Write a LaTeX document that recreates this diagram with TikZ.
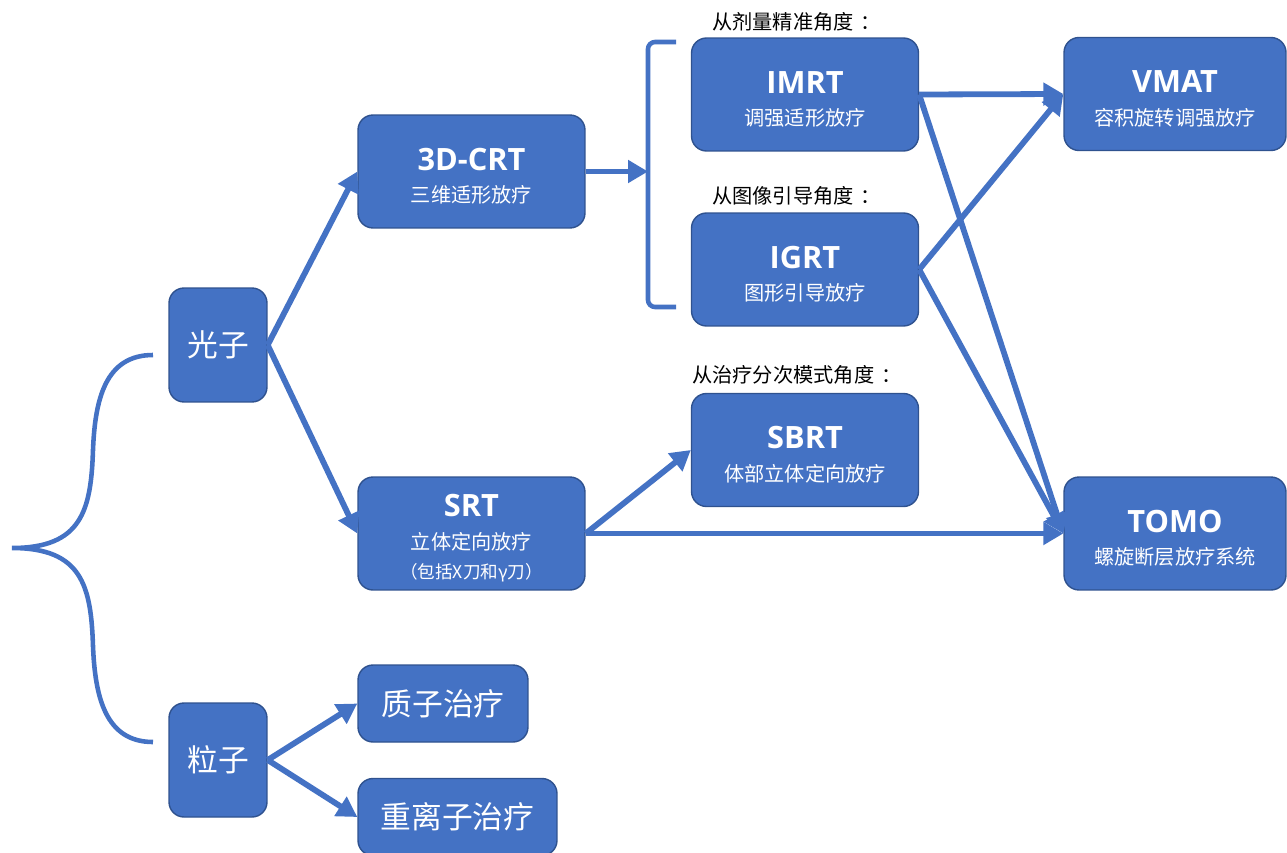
\documentclass[tikz,border=0pt]{standalone}
\usepackage{fontspec}
\setmainfont{Noto Sans CJK SC}
\newfontfamily\latinfont{Open Sans}
\usetikzlibrary{arrows.meta}

\definecolor{boxblue}{HTML}{4472C4}
\definecolor{boxedge}{HTML}{2F528F}

% bold name on top, chinese name below
\newcommand{\techname}[2]{{\latinfont\bfseries\fontsize{17.5}{19}\selectfont\rule{0pt}{18pt}#1}\\[6.5pt]\fontsize{11.5}{16}\selectfont #2}

\tikzset{
  box/.style={draw=boxedge, line width=0.8pt, fill=boxblue, rounded corners=0.3cm,
    text=white, align=center, inner sep=0pt},
  tech/.style={box, minimum width=4.54cm, minimum height=2.26cm},
  kind/.style={box, minimum width=1.96cm, minimum height=2.28cm, font=\fontsize{17.5}{20}\selectfont},
  therapy/.style={box, minimum height=1.54cm, font=\fontsize{17.5}{20}\selectfont},
  note/.style={anchor=west, inner sep=0pt, font=\fontsize{11.5}{14}\selectfont},
  arr/.style={draw=boxblue, line width=3.3pt, -{Triangle[length=0.4cm,width=0.44cm]}},
  bar/.style={draw=boxblue, line width=2.6pt}
}

\begin{document}
\begin{tikzpicture}[x=0.02cm, y=-0.02cm]
    \useasboundingbox (0,0) rectangle (1287,852);

    % photon / particle
    \node[kind] (photon)   at (218,345) {光子};
    \node[kind] (particle) at (218,760) {粒子};

    % photon branch
    \node[tech] (crt)  at (471.5,171.5) {\techname{3D-CRT}{三维适形放疗}};
    \node[tech] (srt)  at (471.5,533.5) {\techname{SRT}{立体定向放疗\\[4.5pt]（包括X刀和γ刀）}};
    \node[tech] (imrt) at (805,94.5)  {\techname{IMRT}{调强适形放疗}};
    \node[tech] (igrt) at (805,269.5) {\techname{IGRT}{图形引导放疗}};
    \node[tech] (sbrt) at (805,450)   {\techname{SBRT}{体部立体定向放疗}};
    \node[tech, minimum width=4.44cm] (vmat) at (1175,94)    {\techname{VMAT}{容积旋转调强放疗}};
    \node[tech, minimum width=4.44cm] (tomo) at (1175,533.5) {\techname{TOMO}{螺旋断层放疗系统}};

    \node[note] (dose)  at (712,22)  {从剂量精准角度\hspace{0.35em}：};
    \node[note] (image) at (712,196) {从图像引导角度\hspace{0.35em}：};
    \node[note] (frac)  at (692,375) {从治疗分次模式角度\hspace{0.35em}：};

    % particle branch
    \node[therapy, minimum width=3.4cm]  (proton) at (443,703.5) {质子治疗};
    \node[therapy, minimum width=3.98cm] (heavy)  at (457.5,817) {重离子治疗};

    % left brace
    \coordinate (tip) at (12,548);
    \draw[bar] (153,355) .. controls (105,355) and (95,400) .. (93,450)
        .. controls (91,510) and (82,548) .. (tip)
        .. controls (82,548) and (91,586) .. (93,646)
        .. controls (95,696) and (105,742) .. (153,742);

    % bracket round IMRT / IGRT
    \coordinate (brk) at (648,171.5);
    \draw[bar, rounded corners=4pt] (676,42) -- (648,42) -- (648,307) -- (676,307);

    \draw[arr] (photon.east) -- (crt.west);
    \draw[arr] (photon.east) -- (srt.west);
    \draw[arr] (crt.east) -- (brk);
    \draw[arr] (imrt.east) -- (vmat.west);
    \draw[arr] (imrt.east) -- (tomo.west);
    \draw[arr] (igrt.east) -- (vmat.west);
    \draw[arr] (igrt.east) -- (tomo.west);
    \draw[arr] (srt.east) -- (sbrt.west);
    \draw[arr] (srt.east) -- (tomo.west);
    \draw[arr] (particle.east) -- (proton.west);
    \draw[arr] (particle.east) -- (heavy.west);

\end{tikzpicture}
\end{document}
